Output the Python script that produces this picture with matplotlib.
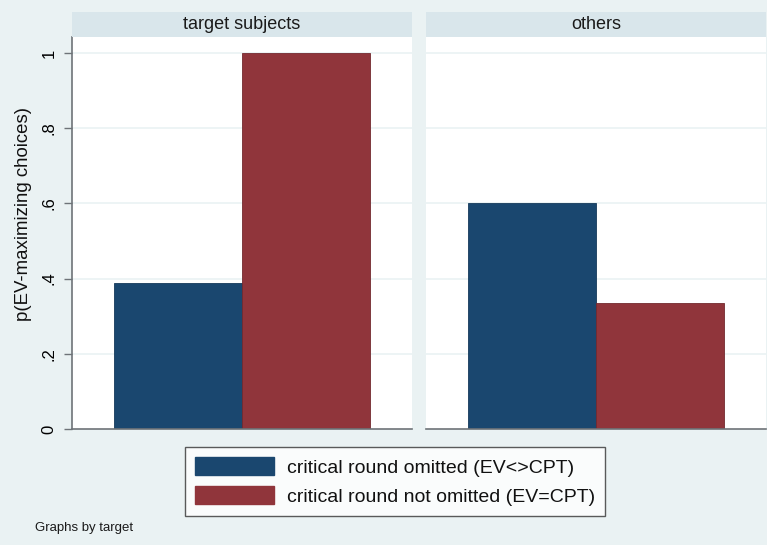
import matplotlib
matplotlib.use("Agg")
import matplotlib.pyplot as plt
from matplotlib.patches import Patch, Rectangle

plt.rcParams['font.family'] = ['Liberation Sans', 'DejaVu Sans']

panels = ["target subjects", "others"]
series = ["critical round omitted (EV<>CPT)", "critical round not omitted (EV=CPT)"]
omitted = [0.389, 0.601]
not_omitted = [1.0, 0.335]
yticks = [0, 0.2, 0.4, 0.6, 0.8, 1.0]
yticklabels = ["0", ".2", ".4", ".6", ".8", "1"]
ylabel = "p(EV-maximizing choices)"
note = "Graphs by target"

BG = "#eaf2f3"
STRIP = "#d9e6eb"
NAVY = "#1a476f"
MAROON = "#90353b"
GRID = "#eaf2f3"
AX = "#6e7378"

W, H = 767, 545
fig = plt.figure(figsize=(W / 100, H / 100), dpi=100)
fig.patch.set_facecolor(BG)

def fx(px):
    return px / W

def fy(py):
    return 1 - py / H

ax_left = [72, 426]
ax_w = 340
ax_top, ax_bot = 37, 429
strip_top = 12

half = 340 / 256  # xlim half-width so bars span same fraction as reference
ytop = 1 + (53 - 37) / 376

axes = []
for i, name in enumerate(panels):
    ax = fig.add_axes([fx(ax_left[i]), fy(ax_bot), ax_w / W, (ax_bot - ax_top) / H])
    ax.set_facecolor("white")
    ax.set_xlim(-half, half)
    ax.set_ylim(0, ytop)
    for yt in yticks[1:]:
        ax.axhline(yt, color=GRID, lw=1.2, zorder=0)
    ax.bar([-0.5], [omitted[i]], width=1.0, color=NAVY, edgecolor="#15395a", lw=0.6, zorder=2)
    ax.bar([0.5], [not_omitted[i]], width=1.0, color=MAROON, edgecolor="#73292f", lw=0.6, zorder=2)
    for s in ["top", "right"]:
        ax.spines[s].set_visible(False)
    ax.spines["bottom"].set_color(AX)
    ax.spines["bottom"].set_linewidth(1.2)
    ax.set_xticks([])
    if i == 0:
        ax.spines["left"].set_color(AX)
        ax.spines["left"].set_linewidth(1.2)
        ax.set_yticks(yticks)
        ax.set_yticklabels(yticklabels, rotation=90, va="center", fontsize=12)
        ax.tick_params(axis="y", length=6, width=1, color=AX, pad=5)
    else:
        ax.spines["left"].set_visible(False)
        ax.set_yticks([])
    # strip
    fig.patches.append(Rectangle((fx(ax_left[i]), fy(ax_top)), ax_w / W, (ax_top - strip_top) / H,
                                 transform=fig.transFigure, facecolor=STRIP, edgecolor="none", zorder=0))
    fig.text(fx(ax_left[i] + ax_w / 2), fy((strip_top + ax_top) / 2), name,
             ha="center", va="center", fontsize=13, color="#1a1a1a")
    axes.append(ax)

fig.text(fx(24), fy(214), ylabel, rotation=90, ha="center", va="center", fontsize=13.4, color="#111111")

handles = [Patch(facecolor=NAVY, edgecolor=NAVY), Patch(facecolor=MAROON, edgecolor=MAROON)]
leg = fig.legend(handles, series, loc="center", bbox_to_anchor=(fx(395), fy(481.5)),
                 frameon=True, fancybox=False, fontsize=14, handlelength=4.1, handleheight=1.05,
                 handletextpad=0.65, borderpad=0.5, labelspacing=0.5, borderaxespad=0)
leg.get_frame().set_edgecolor("#333333")
leg.get_frame().set_linewidth(1.0)
leg.get_frame().set_facecolor("white")
for t in leg.get_texts():
    t.set_color("#111111")

fig.text(fx(35), fy(528), note, ha="left", va="center", fontsize=9.5, color="#1a1a1a")

fig.savefig("out.png", dpi=100, facecolor=BG)
